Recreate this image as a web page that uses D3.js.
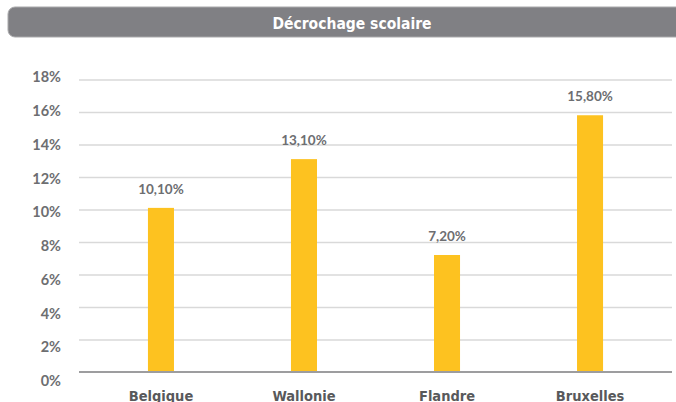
<!DOCTYPE html>
<html>
<head>
<meta charset="utf-8">
<script src="https://cdn.jsdelivr.net/npm/d3@7"></script>
<style>
  html, body { margin: 0; padding: 0; background: #ffffff; }
  svg { display: block; }
</style>
</head>
<body>
<svg id="chart" width="676" height="402"></svg>
<script>
// Taux de décrochage scolaire par région
const regions = ["Belgique", "Wallonie", "Flandre", "Bruxelles"];
const rates = [10.1, 13.1, 7.2, 15.8];
const tickValues = [0, 2, 4, 6, 8, 10, 12, 14, 16, 18];
const title = "Décrochage scolaire";

const svg = d3.select("#chart");

const fmtPct = d => d3.format(".2f")(d).replace(".", ",") + "%";

// Title banner
svg.append("rect")
  .attr("x", 8).attr("y", 7)
  .attr("width", 700).attr("height", 30)
  .attr("rx", 7).attr("ry", 7)
  .attr("fill", "#808084")
  .attr("stroke", "#a9a9ab").attr("stroke-width", 1);
svg.append("text")
  .attr("x", 352).attr("y", 28.5)
  .attr("text-anchor", "middle")
  .attr("fill", "#ffffff")
  .attr("font-family", "'DejaVu Sans Condensed', 'DejaVu Sans', sans-serif")
  .attr("font-weight", "bold")
  .attr("font-size", 15.5)
  .text(title);

// Scales
const x = d3.scaleBand()
  .domain(regions)
  .range([79, 672])
  .paddingInner(0.818)
  .paddingOuter(0.482);

const y = d3.scaleLinear().domain([0, 18]).range([372, 79.5]);
// tick labels sit on a slightly wider ladder than the gridlines
const yLab = d3.scaleLinear().domain([0, 18]).range([381, 77.3]);

// Gridlines
svg.append("g")
  .attr("transform", "translate(79,0)")
  .call(d3.axisLeft(y).tickValues(tickValues.filter(v => v > 0)).tickSize(-593).tickFormat(""))
  .call(g => g.select(".domain").remove())
  .call(g => g.selectAll(".tick line").attr("stroke", "#d9d9d9").attr("stroke-width", 1.5));

// Y tick labels
svg.append("g")
  .attr("transform", "translate(61,0)")
  .call(d3.axisLeft(yLab).tickValues(tickValues).tickSize(0).tickPadding(0).tickFormat(d => d + "%"))
  .call(g => g.select(".domain").remove())
  .call(g => g.selectAll(".tick text")
    .attr("fill", "#6d6e71")
    .attr("font-family", "Lato, 'Open Sans', sans-serif")
    .attr("font-weight", "bold")
    .attr("font-size", 14.5));

// Bars
svg.append("g")
  .selectAll("rect")
  .data(regions)
  .join("rect")
  .attr("x", d => x(d))
  .attr("width", x.bandwidth())
  .attr("y", (d, i) => y(rates[i]))
  .attr("height", (d, i) => y(0) - y(rates[i]))
  .attr("fill", "#fdc220");

// Baseline axis with category labels
svg.append("g")
  .attr("transform", `translate(0,${y(0)})`)
  .call(d3.axisBottom(x).tickSize(0).tickPadding(0))
  .call(g => g.select(".domain")
    .attr("d", "M79,0H672")
    .attr("stroke", "#9d9d9f")
    .attr("stroke-width", 2))
  .call(g => g.selectAll(".tick text")
    .attr("dy", null)
    .attr("y", 28.5)
    .attr("fill", "#58595b")
    .attr("font-family", "'DejaVu Sans Condensed', 'DejaVu Sans', sans-serif")
    .attr("font-weight", "bold")
    .attr("font-size", 14.5));

// Value labels
svg.append("g")
  .selectAll("text")
  .data(regions)
  .join("text")
  .attr("x", d => x(d) + x.bandwidth() / 2)
  .attr("y", (d, i) => y(rates[i]) - 14)
  .attr("text-anchor", "middle")
  .attr("fill", "#6d6e71")
  .attr("font-family", "Lato, 'Open Sans', sans-serif")
  .attr("font-weight", "bold")
  .attr("font-size", 13.5)
  .text((d, i) => fmtPct(rates[i]));
</script>
</body>
</html>
